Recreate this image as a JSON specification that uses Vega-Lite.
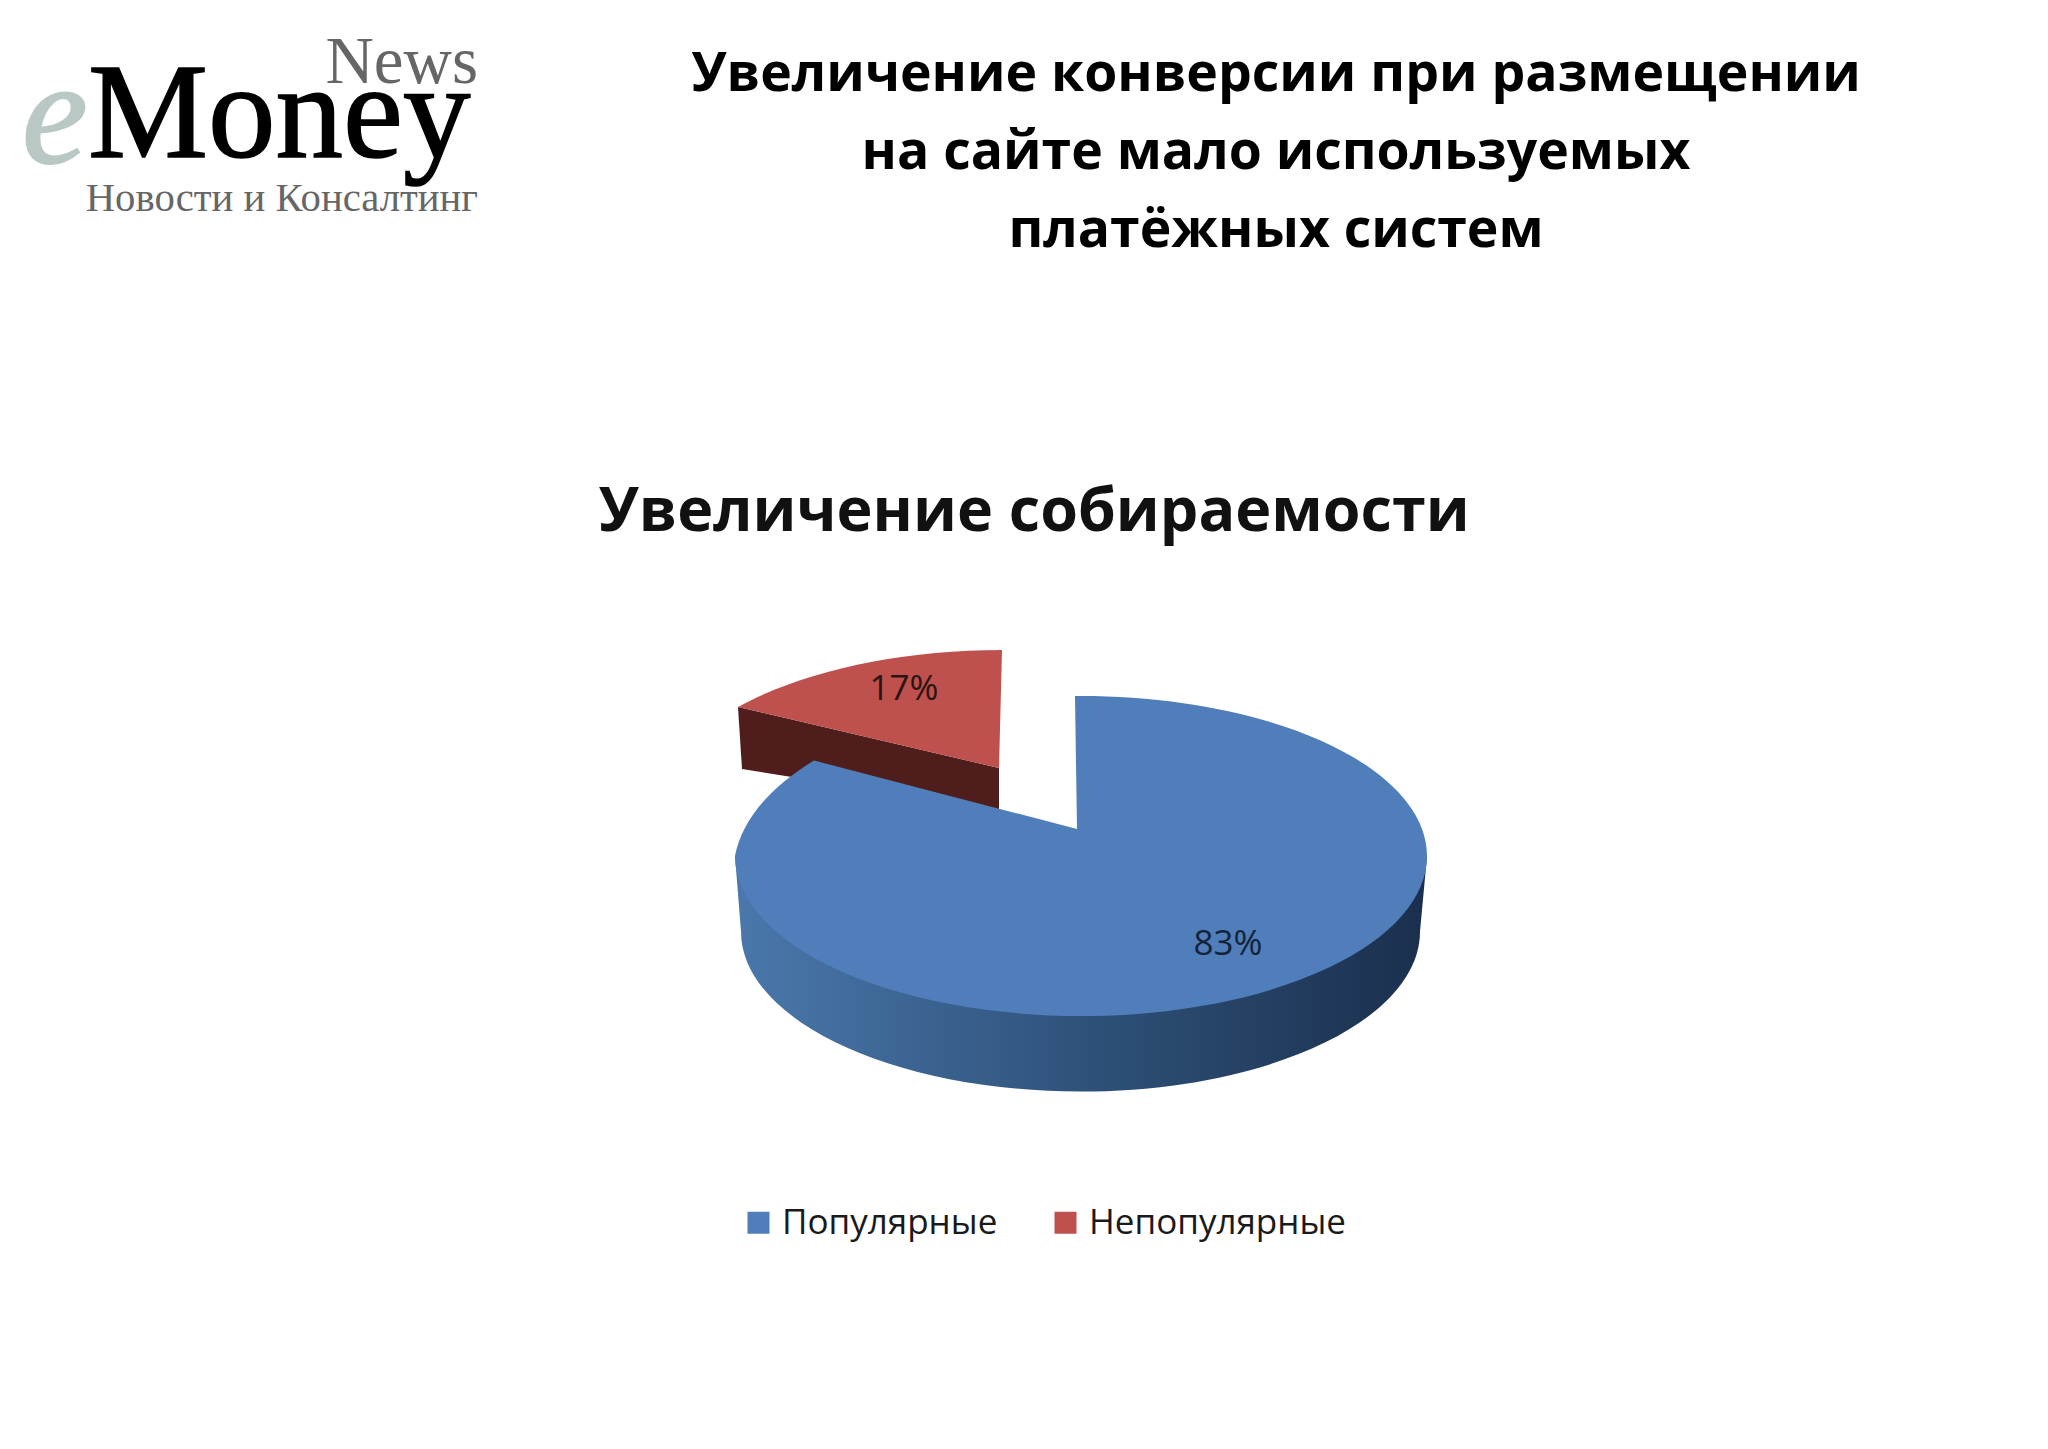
{
  "$schema": "https://vega.github.io/schema/vega-lite/v6.json",
  "width": 2048,
  "height": 1449,
  "padding": 0,
  "autosize": "none",
  "background": "white",
  "config": {"view": {"stroke": null}},
  "title": {
    "text": ["Увеличение конверсии при размещении", "на сайте мало используемых", "платёжных систем"],
    "font": "Open Sans", "fontWeight": "bold", "fontSize": 53.5, "lineHeight": 78, "color": "#000000",
    "anchor": "middle", "align": "center", "baseline": "middle", "offset": 0, "dx": 252, "dy": 284
  },
  "data": {"values": [
    {"segment": "Популярные", "share": 83, "label": "83%"},
    {"segment": "Непопулярные", "share": 17, "label": "17%"}
  ]},
  "layer": [
    {
      "transform": [{"filter": "datum.segment === 'Непопулярные'"}],
      "mark": {"type": "point", "filled": true, "opacity": 1, "size": 4, "color": "#4f1d1c",
        "shape": "M -286 -17.5 L -282 44.5 L -25 85.5 L -25 43.5 Z"},
      "encoding": {}
    },
    {
      "transform": [{"filter": "datum.segment === 'Популярные'"}],
      "mark": {"type": "point", "filled": true, "opacity": 1, "size": 4,
        "color": {"gradient": "linear", "x1": 0, "y1": 0, "x2": 1, "y2": 0,
          "stops": [{"offset": 0, "color": "#4a78ac"}, {"offset": 0.5, "color": "#2f527a"}, {"offset": 1, "color": "#1a2f4d"}]},
        "shape": "M -289 131.5 L -283 207 A 339.5 160 0 0 0 396 207 L 403 131.5 Z"},
      "encoding": {}
    },
    {
      "mark": {"type": "point", "filled": true, "opacity": 1, "size": 4},
      "encoding": {
        "color": {"field": "segment", "type": "nominal",
          "scale": {"domain": ["Популярные", "Непопулярные"], "range": ["#4f7eba", "#be504e"]},
          "legend": {"title": null, "orient": "none", "legendX": 741, "legendY": 1205, "direction": "horizontal",
            "symbolType": "square", "symbolSize": 484, "symbolStrokeWidth": 0, "labelFont": "Open Sans", "labelFontSize": 35, "labelLimit": 500, "labelColor": "#1a1a1a", "labelOffset": 6, "columnPadding": 50, "symbolOpacity": 1}},
        "shape": {"field": "label", "type": "nominal", "legend": null,
          "scale": {"domain": ["83%", "17%"], "range": [
            "M 51 -28.5 A 346 160 0 1 1 -289 131.5 A 346 175 0 0 1 -210 36 L 53 104.5 Z",
            "M -22 -74.5 A 346 160 0 0 0 -286 -17.5 L -25 43.5 Z"
          ]}}
      }
    },
    {
      "transform": [{"filter": "datum.segment === 'Популярные'"}],
      "mark": {"type": "text", "font": "Open Sans", "fontSize": 35, "color": "#14233a", "dx": 204, "dy": 219},
      "encoding": {"text": {"field": "label"}}
    },
    {
      "transform": [{"filter": "datum.segment === 'Непопулярные'"}],
      "mark": {"type": "text", "font": "Open Sans", "fontSize": 35, "color": "#2a1515", "dx": -120, "dy": -36},
      "encoding": {"text": {"field": "label"}}
    },
    {
      "data": {"values": [{"t": "Увеличение собираемости"}]},
      "mark": {"type": "text", "font": "Open Sans", "fontWeight": "bold", "fontSize": 61, "color": "#111111", "dx": 10, "dy": -212},
      "encoding": {"text": {"field": "t"}}
    },
    {
      "data": {"values": [{"t": "News"}]},
      "mark": {"type": "text", "font": "Liberation Serif", "fontSize": 67, "color": "#666666", "align": "right", "baseline": "alphabetic", "dx": -546, "dy": -642},
      "encoding": {"text": {"field": "t"}}
    },
    {
      "data": {"values": [{"t": "e"}]},
      "mark": {"type": "text", "font": "Liberation Serif", "fontStyle": "italic", "fontSize": 148, "color": "#b9c8c5", "stroke": "#b9c8c5", "strokeWidth": 2, "align": "left", "baseline": "alphabetic", "dx": -1002, "dy": -562},
      "encoding": {"text": {"field": "t"}}
    },
    {
      "data": {"values": [{"t": "Money"}]},
      "mark": {"type": "text", "font": "Liberation Serif", "fontSize": 135, "color": "#000000", "stroke": "#000000", "strokeWidth": 1.5, "align": "left", "baseline": "alphabetic", "dx": -936, "dy": -568},
      "encoding": {"text": {"field": "t"}}
    },
    {
      "data": {"values": [{"t": "Новости и Консалтинг"}]},
      "mark": {"type": "text", "font": "Liberation Serif", "fontSize": 40.7, "color": "#666666", "align": "right", "baseline": "alphabetic", "dx": -546, "dy": -514},
      "encoding": {"text": {"field": "t"}}
    }
  ],
  "resolve": {"scale": {"color": "independent", "shape": "independent"}}
}
